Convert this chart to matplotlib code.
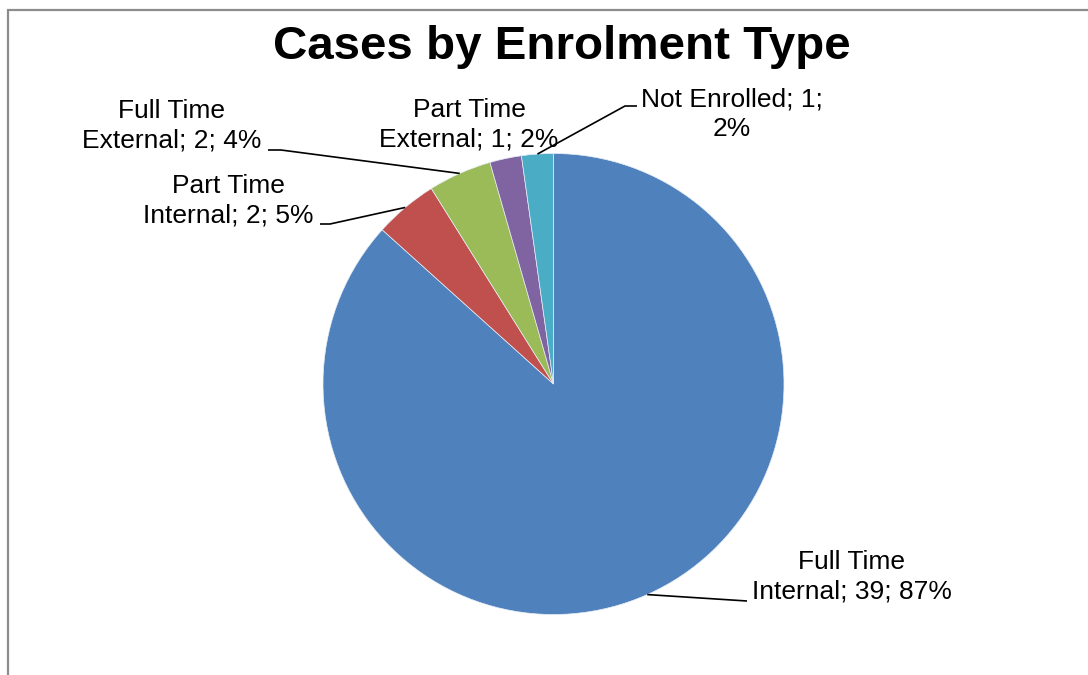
import matplotlib
matplotlib.use('Agg')
import matplotlib.pyplot as plt
import numpy as np
from matplotlib.patches import Rectangle

plt.rcParams['font.family'] = ['Liberation Sans', 'DejaVu Sans']

# --- data ---
categories = ['Full Time\nInternal', 'Part Time\nInternal', 'Full Time\nExternal',
              'Part Time\nExternal', 'Not Enrolled']
counts = [39, 2, 2, 1, 1]
pct_labels = ['87%', '5%', '4%', '2%', '2%']
colors = ['#4F81BD', '#C0504D', '#9BBB59', '#8064A2', '#4BACC6']

W, H = 1088, 675
fig = plt.figure(figsize=(W / 100, H / 100), dpi=100)
ax = fig.add_axes([0, 0, 1, 1])

# outer chart border (only top/left visible in the crop)
ax.add_patch(Rectangle((7.5, -20), W + 40, H - 9.5 + 20, fill=False,
                       edgecolor='#8C8C8C', linewidth=1.6))

cx, cy, r = 553.5, H - 384, 230.5
wedges, _ = ax.pie(counts, colors=colors, startangle=90, counterclock=False,
                   center=(cx, cy), radius=r, frame=True,
                   wedgeprops=dict(edgecolor='#E8EEF6', linewidth=0.5))
ax.set_xlim(0, W)
ax.set_ylim(0, H)
ax.set_aspect('equal')
ax.axis('off')

ax.text(562, H - 47, 'Cases by Enrolment Type', ha='center', va='center',
        fontsize=34.2, fontweight='bold')

# label layout in pixel coords: text centre, then leader points after the wedge anchor
layout = [
    ((852, 577), [(747, 601)]),
    ((228, 201), [(330, 224), (320, 224)]),
    ((172, 126), [(281, 150), (268, 150)]),
    ((469, 125), None),
    ((732, 114), [(625, 106), (637, 106)]),
]

for w, cat, n, pct, (tpos, pts) in zip(wedges, categories, counts, pct_labels, layout):
    if cat == 'Not Enrolled':
        txt = f'{cat}; {n};\n{pct}'
    else:
        first, second = cat.split('\n')
        txt = f'{first}\n{second}; {n}; {pct}'
    ax.text(tpos[0], H - tpos[1], txt, ha='center', va='center',
            fontsize=19, linespacing=1.3)
    if pts:
        mid = np.deg2rad((w.theta1 + w.theta2) / 2)
        xs = [cx + r * np.cos(mid)] + [p[0] for p in pts]
        ys = [cy + r * np.sin(mid)] + [H - p[1] for p in pts]
        ax.plot(xs, ys, color='black', linewidth=1.2, solid_capstyle='butt')

fig.savefig('out.png', dpi=100)
plt.close()
